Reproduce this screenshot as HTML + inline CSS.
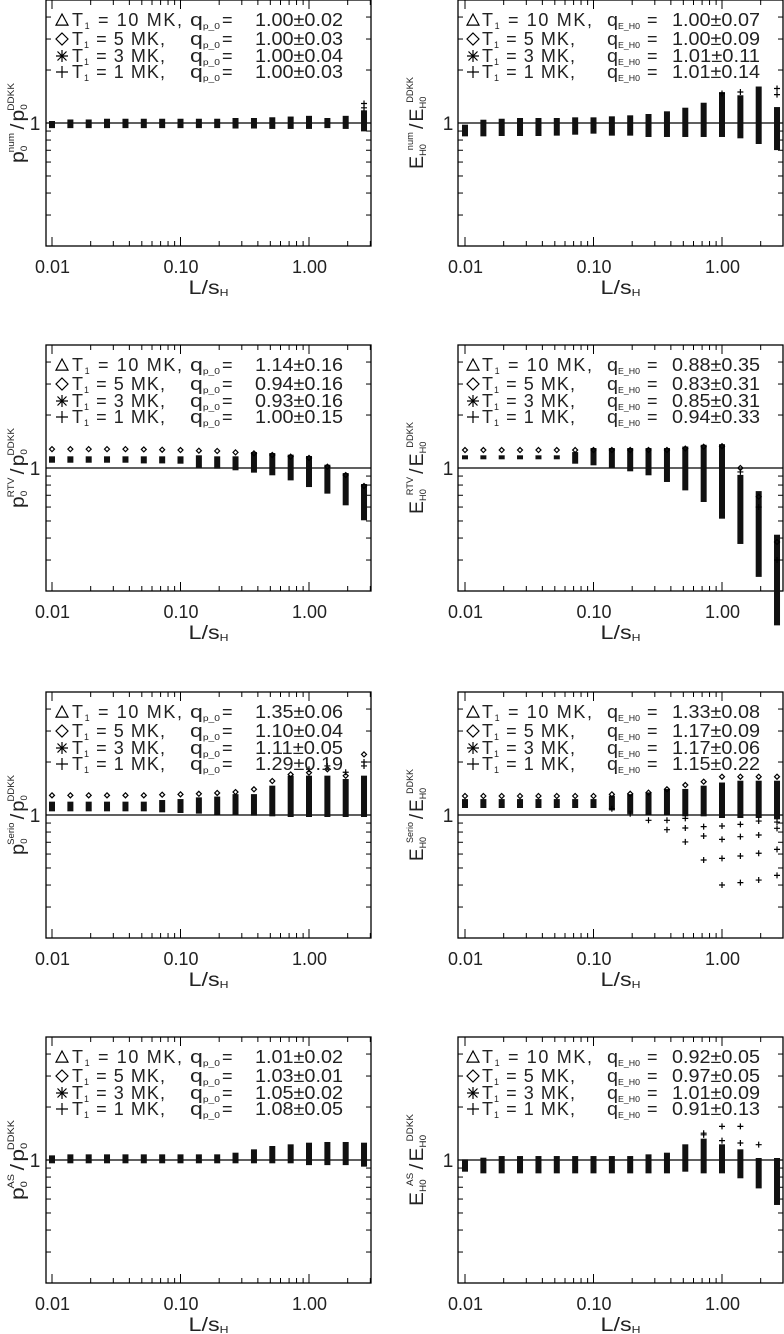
<!DOCTYPE html>
<html><head><meta charset="utf-8">
<style>
html,body{margin:0;padding:0;background:#fff;}
svg{display:block;font-family:"Liberation Sans",sans-serif;}
</style></head>
<body>
<svg id="fig" width="784" height="1334" viewBox="0 0 784 1334" xmlns="http://www.w3.org/2000/svg"></svg>
<script>
// ---------- data ----------
const LS = [0.01,0.0139,0.0193,0.0268,0.0373,0.0518,0.072,0.1,0.139,0.193,0.268,0.373,0.518,0.72,1.0,1.39,1.93,2.68];
const X_TICKS = [0.01,0.1,1];
const X_LABELS = ['0.01','0.10','1.00'];
const X_MINOR = [0.02,0.03,0.04,0.05,0.06,0.07,0.08,0.09,0.2,0.3,0.4,0.5,0.6,0.7,0.8,0.9,2,3];
const Y_MINOR = [0.2,0.3,0.4,0.5,0.6,0.7,0.8,0.9,2,3,4];
const T_LABELS = ['10','5','3','1'];
const SYMBOLS = ['triangle','diamond','asterisk','plus'];

const p1Lo = [0.96,0.96,0.96,0.96,0.96,0.96,0.96,0.96,0.96,0.96,0.955,0.955,0.95,0.95,0.95,0.96,0.95,0.92];
const p1Hi = [1.0,1.02,1.02,1.03,1.03,1.03,1.03,1.03,1.03,1.03,1.04,1.04,1.05,1.06,1.07,1.04,1.07,1.15];
const p1Top = [];
const p1Out = [[17,1.29],[17,1.22]];
const p1Q = ['1.00±0.02','1.00±0.03','1.00±0.04','1.00±0.03'];

const p2Lo = [0.862,0.862,0.866,0.866,0.866,0.87,0.881,0.893,0.87,0.87,0.855,0.855,0.855,0.855,0.855,0.84,0.78,0.72];
const p2Hi = [0.953,1.017,1.03,1.04,1.04,1.04,1.049,1.049,1.063,1.077,1.096,1.135,1.19,1.27,1.46,1.4,1.57,1.2];
const p2Top = [];
const p2Out = [[15,1.5],[17,1.57],[17,1.45],[14,1.47]];
const p2Q = ['1.00±0.07','1.00±0.09','1.01±0.11','1.01±0.14'];

const p3Lo = [1.10,1.10,1.10,1.10,1.10,1.09,1.09,1.086,1.026,1.017,0.996,0.966,0.933,0.873,0.80,0.734,0.63,0.518];
const p3Hi = [1.135,1.135,1.135,1.135,1.135,1.135,1.135,1.135,1.15,1.135,1.135,1.2,1.185,1.16,1.14,1.017,0.912,0.79];
const p3Top = [1.28,1.28,1.28,1.28,1.28,1.275,1.27,1.265,1.254,1.249,1.227,1.211,1.185,1.16,1.14,1.017,0.912,0.79];
const p3Out = [];
const p3Q = ['1.14±0.16','0.94±0.16','0.93±0.16','1.00±0.15'];

const p4Lo = [1.15,1.15,1.15,1.15,1.15,1.15,1.086,1.063,1.026,0.983,0.933,0.855,0.766,0.658,0.529,0.38,0.247,0.131];
const p4Hi = [1.15,1.15,1.15,1.15,1.15,1.15,1.2,1.265,1.265,1.265,1.265,1.265,1.29,1.32,1.33,0.89,0.72,0.407];
const p4Top = [1.265,1.265,1.265,1.265,1.265,1.265,1.265,1.265,1.265,1.265,1.265,1.265,1.29,1.32,1.33,1.0,0.687,0.38];
const p4Out = [[15,0.95],[16,0.6],[17,0.3]];
const p4Q = ['0.88±0.35','0.83±0.31','0.85±0.31','0.94±0.33'];

const p5Lo = [1.077,1.077,1.077,1.077,1.077,1.077,1.063,1.054,1.045,1.031,1.022,1.017,1.009,1.0,1.0,1.0,1.0,1.0];
const p5Hi = [1.16,1.16,1.16,1.16,1.16,1.16,1.185,1.2,1.227,1.24,1.28,1.28,1.43,1.63,1.63,1.63,1.56,1.63];
const p5Top = [1.293,1.293,1.293,1.293,1.293,1.293,1.304,1.31,1.32,1.334,1.35,1.4,1.56,1.70,1.74,1.82,1.67,2.21];
const p5Out = [[14,1.82],[15,1.9],[16,1.75],[17,1.9],[17,2.0]];
const p5Q = ['1.35±0.06','1.10±0.04','1.11±0.05','1.29±0.19'];

const p6Lo = [1.125,1.125,1.125,1.125,1.125,1.125,1.125,1.125,1.09,1.054,1.031,1.031,1.009,1.009,0.987,0.987,0.987,0.97];
const p6Hi = [1.2,1.2,1.2,1.2,1.2,1.2,1.2,1.2,1.254,1.28,1.31,1.37,1.37,1.43,1.49,1.526,1.526,1.526];
const p6Top = [1.282,1.282,1.282,1.282,1.282,1.282,1.282,1.282,1.31,1.32,1.34,1.4,1.48,1.546,1.65,1.65,1.65,1.65];
const p6Out = [[8,1.086],[9,1.017],[10,0.933],[11,0.933],[11,0.825],[12,0.957],[12,0.844],[12,0.703],[13,0.859],[13,0.76],[13,0.555],[14,0.866],[14,0.727],[14,0.567],[14,0.40],[15,0.885],[15,0.753],[15,0.585],[15,0.413],[16,0.924],[16,0.77],[16,0.606],[16,0.427],[17,0.912],[17,0.84],[17,0.638],[17,0.454]];
const p6Q = ['1.33±0.08','1.17±0.09','1.17±0.06','1.15±0.22'];

const p7Lo = [0.983,0.983,0.983,0.983,0.983,0.983,0.983,0.983,0.983,0.983,0.983,0.983,0.983,0.983,0.96,0.96,0.96,0.941];
const p7Hi = [1.035,1.049,1.049,1.049,1.049,1.049,1.049,1.049,1.049,1.049,1.072,1.12,1.17,1.196,1.222,1.233,1.233,1.222];
const p7Top = [];
const p7Out = [];
const p7Q = ['1.01±0.02','1.03±0.01','1.05±0.02','1.08±0.05'];

const p8Lo = [0.881,0.862,0.862,0.862,0.862,0.862,0.862,0.862,0.862,0.862,0.862,0.862,0.881,0.862,0.862,0.808,0.708,0.57];
const p8Hi = [0.983,1.004,1.026,1.026,1.026,1.026,1.026,1.026,1.026,1.026,1.049,1.072,1.196,1.288,1.196,1.12,1.0,1.0];
const p8Top = [];
const p8Out = [[13,1.39],[13,1.42],[14,1.553],[14,1.288],[15,1.553],[15,1.249],[16,1.222]];
const p8Q = ['0.92±0.05','0.97±0.05','1.01±0.09','0.91±0.13'];

// ---------- layout ----------
const ROW_TOPS = [0,345,692,1037];
const COLS = [
  {boxL:46, boxR:371, x01:52, labX:35, titleX:17, symX:62, tX:72, qX:190, eqX:222, vX:255, qW:30, titleW:80},
  {boxL:458, boxR:783, x01:465, labX:448, titleX:416, symX:473, tX:482, qX:607, eqX:647, vX:672, qW:33, titleW:92}
];
const DEC = 128.5, BOX_H = 246, YK = 176;
const SVGNS = 'http://www.w3.org/2000/svg';
const svg = document.getElementById('fig');

function mk(tag, attrs, parent){
  const e = document.createElementNS(SVGNS, tag);
  for (const k in attrs) e.setAttribute(k, attrs[k]);
  (parent||svg).appendChild(e);
  return e;
}
function xScale(col, v){ return COLS[col].x01 + DEC*Math.log10(v/0.01); }
function yScale(row, v){ return ROW_TOPS[row] + 123 - YK*Math.log10(v); }

function symbol(g, type, x, y, s){
  let e;
  if (type==='triangle'){
    e = mk('path',{d:`M${x-s},${y+s*0.85} L${x},${y-s} L${x+s},${y+s*0.85} Z`,fill:'none',stroke:'#000','stroke-width':1.2},g);
  } else if (type==='diamond'){
    e = mk('path',{d:`M${x},${y-s} L${x+s},${y} L${x},${y+s} L${x-s},${y} Z`,fill:'none',stroke:'#000','stroke-width':1.2},g);
  } else if (type==='asterisk'){
    const d=s*0.75;
    e = mk('path',{d:`M${x-s},${y} L${x+s},${y} M${x-d},${y-d} L${x+d},${y+d} M${x-d},${y+d} L${x+d},${y-d} M${x},${y-s} L${x},${y+s}`,stroke:'#000','stroke-width':1.2},g);
  } else {
    e = mk('path',{d:`M${x-s},${y} L${x+s},${y} M${x},${y-s} L${x},${y+s}`,stroke:'#000','stroke-width':1.2},g);
  }
  return e;
}

function drawPanel(row, col, name, titleBase, titleSub, titleSup, lo, hi, top, out, q){
  const C = COLS[col], T = ROW_TOPS[row];
  const g = mk('g',{});
  
  
  const fr = mk('rect',{x:C.boxL,y:T,width:C.boxR-C.boxL,height:BOX_H,fill:'none',stroke:'#000','stroke-width':1.3},g);
  
  
  const rl = mk('line',{x1:C.boxL,x2:C.boxR,y1:yScale(row,1),y2:yScale(row,1),stroke:'#000','stroke-width':1.3},g);
  
  
  X_TICKS.forEach((v,i)=>{
    const x = xScale(col,v);
    mk('line',{x1:x,x2:x,y1:T+BOX_H,y2:T+BOX_H-9,stroke:'#000'},g);
    mk('line',{x1:x,x2:x,y1:T,y2:T+9,stroke:'#000'},g);
    const t = mk('text',{x:x-17,y:T+BOX_H+27,'font-size':18,fill:'#222',textLength:35,lengthAdjust:'spacingAndGlyphs'},g);
    t.textContent = X_LABELS[i];
    
    
  });
  X_MINOR.forEach(v=>{
    const x = xScale(col,v);
    if (x > C.boxR) return;
    mk('line',{x1:x,x2:x,y1:T+BOX_H,y2:T+BOX_H-5,stroke:'#000'},g);
    mk('line',{x1:x,x2:x,y1:T,y2:T+5,stroke:'#000'},g);
  });
  Y_MINOR.forEach(v=>{
    const y = yScale(row,v);
    mk('line',{x1:C.boxL,x2:C.boxL+5,y1:y,y2:y,stroke:'#000'},g);
    mk('line',{x1:C.boxR,x2:C.boxR-5,y1:y,y2:y,stroke:'#000'},g);
  });
  const yl = mk('text',{x:C.labX,y:yScale(row,1)+7,'text-anchor':'middle','font-size':19,fill:'#222'},g);
  yl.textContent = '1';
  
  
  const xt = mk('text',{x:(C.boxL+C.boxR)/2-20,y:T+BOX_H+48,'font-size':19,fill:'#222',textLength:40,lengthAdjust:'spacingAndGlyphs'},g);
  
  
  xt.innerHTML = 'L/s<tspan font-size="10" dy="2">H</tspan>';
  const cy = yScale(row,1);
  const yt = mk('text',{x:-C.titleW/2,y:0,'font-size':19,fill:'#222',textLength:C.titleW,lengthAdjust:'spacingAndGlyphs',transform:`translate(${C.titleX+7},${cy}) rotate(-90)`},g);
  
  
  yt.innerHTML = `${titleBase}<tspan font-size="9" dy="3">${titleSub}</tspan><tspan font-size="9" dy="-13" dx="-6">${titleSup}</tspan><tspan dy="10" dx="3">/</tspan><tspan dx="2">${titleBase}</tspan><tspan font-size="9" dy="3">${titleSub}</tspan><tspan font-size="9" dy="-13" dx="-6">DDKK</tspan>`;
  lo.forEach((l,i)=>{
    const x = xScale(col,LS[i]);
    const y1 = yScale(row,hi[i]), y2 = yScale(row,l);
    const b = mk('rect',{x:x-3,y:y1-2,width:6,height:(y2-y1)+4,fill:'#111'},g);
    
    
  });
  top.forEach((v,i)=>{
    const m = symbol(g,'diamond',xScale(col,LS[i]),yScale(row,v),2.5);
    
    
  });
  out.forEach(p=>{
    const m = symbol(g,'plus',xScale(col,LS[p[0]]),yScale(row,p[1]),3);
    
    
  });
  const LY = [20,39,56,72];
  for (let k=0;k<4;k++){
    const ly = T+LY[k];
    const s = symbol(g,SYMBOLS[k],C.symX,ly,6);
    
    
    const tw = T_LABELS[k].length>1 ? 110 : 93;
    const t1 = mk('text',{x:C.tX,y:ly+6,'font-size':18,fill:'#222',textLength:tw,lengthAdjust:'spacing'},g);
    
    
    t1.innerHTML = `T<tspan font-size="9" dy="3">1</tspan><tspan dy="-3"> = ${T_LABELS[k]} MK,</tspan>`;
    const sub = col===0 ? 'p_0' : 'E_H0';
    const t2 = mk('text',{x:C.qX,y:ly+6,'font-size':18,fill:'#222',textLength:C.qW,lengthAdjust:'spacingAndGlyphs'},g);
    
    
    t2.innerHTML = `q<tspan font-size="8" dy="3">${sub}</tspan>`;
    const t3 = mk('text',{x:C.eqX,y:ly+6,'font-size':18,fill:'#222'},g);
    t3.textContent = '=';
    
    
    const t4 = mk('text',{x:C.vX,y:ly+6,'font-size':18,fill:'#222',textLength:88,lengthAdjust:'spacingAndGlyphs'},g);
    t4.textContent = q[k];
    
    
  }
}

drawPanel(0,0,'panel-p0-num','p','0','num',p1Lo,p1Hi,p1Top,p1Out,p1Q);
drawPanel(0,1,'panel-eh0-num','E','H0','num',p2Lo,p2Hi,p2Top,p2Out,p2Q);
drawPanel(1,0,'panel-p0-rtv','p','0','RTV',p3Lo,p3Hi,p3Top,p3Out,p3Q);
drawPanel(1,1,'panel-eh0-rtv','E','H0','RTV',p4Lo,p4Hi,p4Top,p4Out,p4Q);
drawPanel(2,0,'panel-p0-serio','p','0','Serio',p5Lo,p5Hi,p5Top,p5Out,p5Q);
drawPanel(2,1,'panel-eh0-serio','E','H0','Serio',p6Lo,p6Hi,p6Top,p6Out,p6Q);
drawPanel(3,0,'panel-p0-as','p','0','AS',p7Lo,p7Hi,p7Top,p7Out,p7Q);
drawPanel(3,1,'panel-eh0-as','E','H0','AS',p8Lo,p8Hi,p8Top,p8Out,p8Q);
</script>
</body></html>
